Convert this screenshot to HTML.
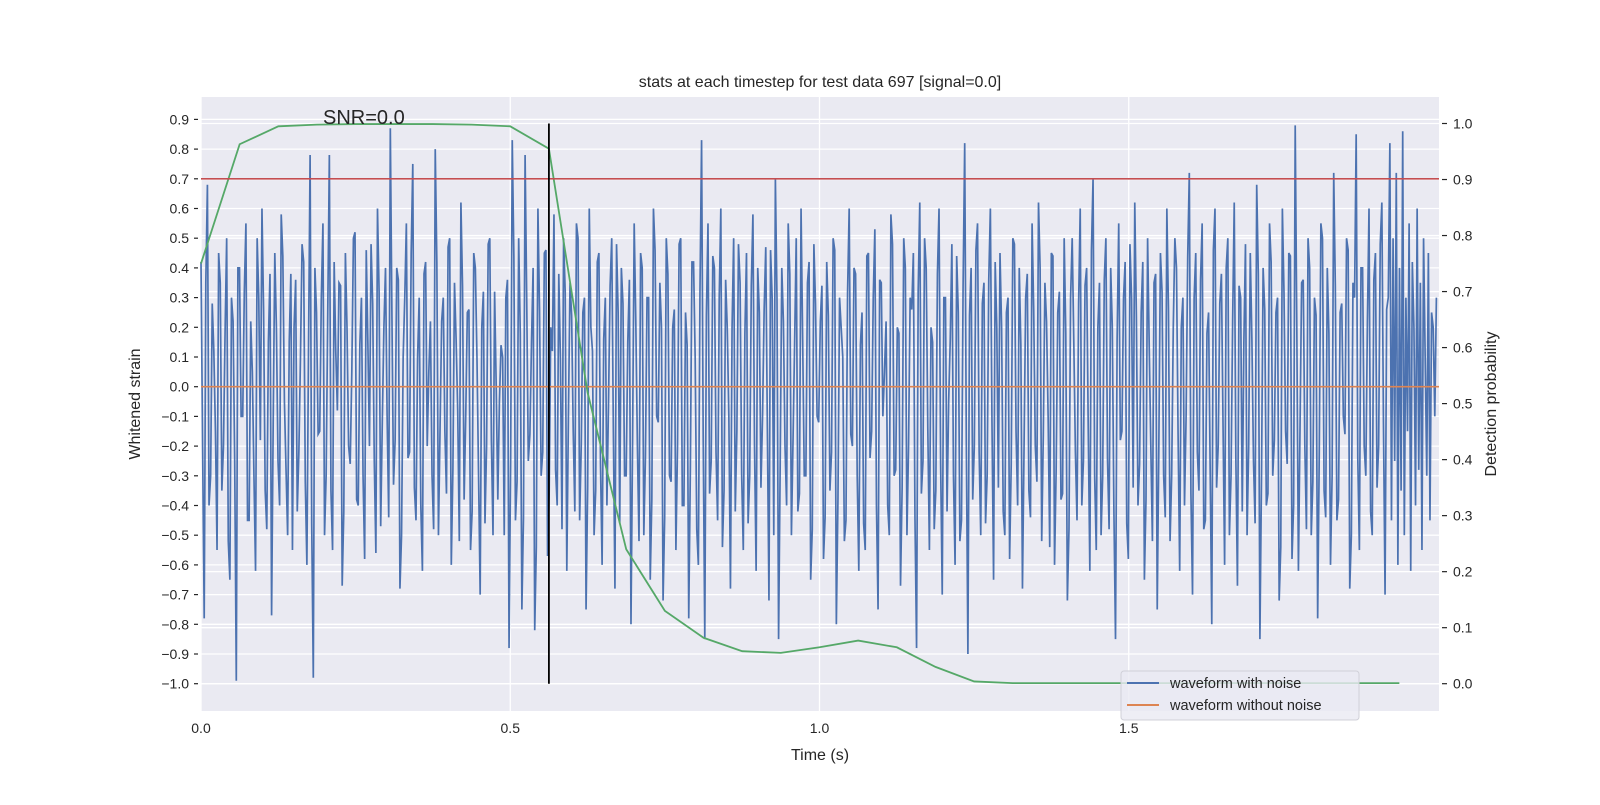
<!DOCTYPE html>
<html><head><meta charset="utf-8"><style>
body{margin:0;background:#fff;}
svg text{font-family:"Liberation Sans","DejaVu Sans",sans-serif;fill:#262626;}
</style></head><body>
<svg id="chart" width="1600" height="800" xmlns="http://www.w3.org/2000/svg">
<rect x="201" y="97" width="1238" height="614" fill="#eaeaf2"/>
<g id="grid"></g>
<g id="marks"></g>
<g id="axes"></g>
<text x="820" y="87" font-size="16" text-anchor="middle">stats at each timestep for test data 697 [signal=0.0]</text>
<text x="323" y="124" font-size="20">SNR=0.0</text>
<text x="820" y="760" font-size="16" text-anchor="middle">Time (s)</text>
<text x="140" y="404" font-size="16" text-anchor="middle" transform="rotate(-90 140 404)">Whitened strain</text>
<text x="1496" y="404" font-size="16" text-anchor="middle" transform="rotate(-90 1496 404)">Detection probability</text>
<g>
<rect x="1121" y="671" width="238" height="49" rx="3" fill="#eaeaf2" fill-opacity="0.8" stroke="#d0d0d8"/>
<line x1="1127" y1="683" x2="1159" y2="683" stroke="#4c72b0" stroke-width="2"/>
<text x="1170" y="688" font-size="14.5">waveform with noise</text>
<line x1="1127" y1="705" x2="1159" y2="705" stroke="#dd8452" stroke-width="2"/>
<text x="1170" y="710" font-size="14.5">waveform without noise</text>
</g>
</svg>
<script>
const xTicks=[0,0.5,1.0,1.5];
const xTickLabels=["0.0","0.5","1.0","1.5"];
const yTicks=[-1.0,-0.9,-0.8,-0.7,-0.6,-0.5,-0.4,-0.3,-0.2,-0.1,0.0,0.1,0.2,0.3,0.4,0.5,0.6,0.7,0.8,0.9];
const y2Ticks=[0,0.1,0.2,0.3,0.4,0.5,0.6,0.7,0.8,0.9,1.0];
const probTimes=[0,0.0625,0.125,0.1875,0.25,0.3125,0.375,0.4375,0.5,0.5625,0.625,0.6875,0.75,0.8125,0.875,0.9375,1.0,1.0625,1.125,1.1875,1.25,1.3125,1.375,1.4375,1.5,1.5625,1.625,1.6875,1.75,1.8125,1.875,1.9375];
const probValues=[0.75,0.963,0.995,0.998,0.999,0.999,0.999,0.998,0.995,0.955,0.52,0.24,0.13,0.082,0.058,0.055,0.065,0.077,0.065,0.03,0.004,0.001,0.001,0.001,0.001,0.001,0.001,0.001,0.001,0.001,0.001,0.001];
const threshold=0.7;
const markerTime=0.5625;
const noiseDuration=2.0;
const noiseA=[0.42,-0.78,0.68,-0.3,0.12,-0.55,0.35,-0.2,0.5,-0.65,0.22,-0.99,0.4,-0.1,0.55,-0.45,0.05,-0.62,0.3,0.6,-0.35,0.15,-0.77,0.45,-0.25,0.58,-0.05,-0.5,0.38,0.2,-0.42,0.1,0.42,-0.6,0.78,-0.98,0.25,-0.15,0.55,-0.3,0.78,-0.55,0.12,0.35,-0.67,0.45,-0.2,0.05,0.52,-0.4,0.3,-0.58,0.15,0.48,-0.25,0.6,-0.47,0.2,-0.1,0.87,-0.33,0.4,-0.68,0.1,0.55,-0.22,0.75,-0.45,0.3,-0.62,0.42,0.05,-0.3,0.8,-0.5,0.22,-0.15,0.47,-0.6,0.35,-0.08,0.62,-0.38,0.25,-0.55,0.45,0.1,-0.7,0.32,-0.2,0.5,-0.5,0.0,-0.05,0.1,0.3,-0.88,0.83,-0.45,0.5,-0.75,0.78,-0.25,0.15,-0.82,0.6,-0.3,0.45,-0.57,0.2,0.58,-0.4,0.1,0.5,-0.62,0.35,-0.15,0.55,-0.45,0.25,-0.75,0.6,0.12,-0.35,0.45,-0.6,0.3,-0.05,0.5,-0.68,0.25,0.4,-0.3,0.15,-0.8,0.55,-0.2,0.45,-0.5,0.3,-0.65,0.6,-0.1,0.35,-0.72,0.5,-0.3,0.2,-0.55,0.48,-0.4,0.25,-0.78,0.42,0.1,-0.6,0.83,-0.85,0.55,-0.25,0.4,-0.45,0.6,-0.35,0.2,-0.68,0.5,-0.15,0.35,-0.55,0.45,-0.3,0.58,-0.62,0.25,-0.1,0.47,-0.72,0.3,0.7,-0.85,0.4,-0.2,0.55,-0.5,0.15,-0.42,0.6,-0.3,0.35,-0.65,0.48,-0.1,0.22,-0.58,0.42,-0.35,0.5,-0.8,0.3,0.1,-0.45,0.6,-0.2,0.38,-0.62,0.25,-0.55,0.45,-0.15,0.53,-0.75,0.35,0.05,-0.4,0.58,-0.3,0.2,-0.67,0.5,-0.5,0.3,0.45,-0.88,0.62,-0.25,0.4,-0.55,0.15,-0.35,0.6,-0.7,0.3,-0.05,0.48,-0.6,0.25,-0.45,0.82,-0.9,0.4,-0.2,0.55,-0.5,0.35,-0.3,0.6,-0.65,0.2,0.45,-0.42,0.25,-0.58,0.5,-0.15,0.4,-0.68,0.3,-0.35,0.55,-0.2,0.62,-0.52,0.35,-0.1,0.45,-0.6,0.25,-0.38,0.5,-0.72,0.3,0.15,-0.45,0.6,-0.25,0.4,-0.62,0.7,-0.55,0.35,-0.3,0.5,-0.48,0.2,-0.85,0.55,-0.15,0.42,-0.58,0.3,0.62,-0.4,0.25,-0.65,0.5,-0.2,0.35,-0.75,0.45,-0.3,0.6,-0.52,0.2,0.4,-0.62,0.3,-0.1,0.72,-0.7,0.45,-0.35,0.55,-0.45,0.25,-0.8,0.6,-0.2,0.38,-0.6,0.5,-0.3,0.62,-0.67,0.3,0.15,-0.5,0.45,-0.25,0.68,-0.85,0.4,-0.4,0.55,-0.3,0.25,-0.72,0.6,-0.15,0.45,-0.58,0.88,-0.62,0.35,-0.2,0.5,-0.5,0.3,-0.78,0.55,-0.35,0.4,-0.6,0.72,-0.45,0.25,-0.1,0.5,-0.68,0.35,0.85,-0.55,0.4,-0.3,0.6,-0.5,0.45,-0.2,0.62,-0.7,0.3,0.82,-0.45,0.5,-0.25,0.72,-0.6,0.4,-0.35,0.86,-0.5,0.3,-0.15,0.55,-0.62,0.42,0.2,-0.4,0.6,-0.28,0.35,-0.55,0.5,0.1,-0.3,0.45,-0.45,0.25,0.2,-0.1,0.3];
const noiseB=[-0.2,0.35,-0.4,0.28,-0.15,0.45,-0.35,0.18,-0.52,0.3,-0.25,0.4,-0.1,0.32,-0.45,0.22,-0.3,0.5,-0.18,0.26,-0.48,0.38,-0.12,0.2,-0.4,0.44,-0.28,0.15,-0.55,0.36,-0.22,0.48,-0.32,0.12,-0.46,0.4,-0.16,0.3,-0.5,0.25,-0.35,0.42,-0.08,0.34,-0.42,0.2,-0.26,0.5,-0.38,0.14,-0.3,0.46,-0.2,0.28,-0.56,0.32,-0.12,0.4,-0.44,0.24,-0.18,0.36,-0.5,0.3,-0.24,0.45,-0.34,0.1,-0.4,0.38,-0.2,0.22,-0.48,0.42,-0.14,0.3,-0.36,0.5,-0.28,0.16,-0.52,0.34,-0.1,0.26,-0.42,0.4,-0.3,0.2,-0.46,0.48,-0.18,0.32,-0.38,0.14,-0.5,0.36,-0.24,0.44,-0.32,0.18,-0.44,0.3,-0.16,0.4,-0.54,0.26,-0.22,0.46,-0.36,0.12,-0.28,0.38,-0.48,0.32,-0.1,0.24,-0.42,0.5,-0.2,0.3,-0.34,0.2,-0.5,0.42,-0.26,0.16,-0.4,0.34,-0.14,0.48,-0.46,0.28,-0.3,0.36,-0.18,0.22,-0.52,0.4,-0.24,0.3,-0.38,0.46,-0.12,0.2,-0.44,0.38,-0.32,0.26,-0.2,0.5,-0.4,0.14,-0.28,0.42,-0.48,0.32,-0.16,0.24,-0.36,0.44,-0.22,0.3,-0.54,0.36,-0.1,0.2,-0.42,0.48,-0.3,0.18,-0.46,0.34,-0.2,0.4,-0.34,0.26,-0.14,0.46,-0.5,0.3,-0.26,0.22,-0.4,0.38,-0.18,0.5,-0.36,0.16,-0.3,0.42,-0.48,0.28,-0.12,0.34,-0.44,0.24,-0.22,0.46,-0.38,0.2,-0.52,0.32,-0.16,0.4,-0.3,0.14,-0.46,0.44,-0.24,0.3,-0.4,0.36,-0.1,0.22,-0.5,0.48,-0.28,0.18,-0.34,0.4,-0.2,0.26,-0.44,0.32,-0.36,0.5,-0.14,0.2,-0.48,0.38,-0.26,0.3,-0.42,0.16,-0.3,0.44,-0.52,0.34,-0.18,0.24,-0.38,0.46,-0.22,0.28,-0.46,0.36,-0.12,0.42,-0.34,0.2,-0.5,0.3,-0.26,0.48,-0.4,0.14,-0.2,0.38,-0.44,0.26,-0.32,0.4,-0.16,0.22,-0.54,0.44,-0.28,0.32,-0.36,0.18,-0.48,0.5,-0.22,0.28,-0.4,0.34,-0.14,0.46,-0.3,0.2,-0.5,0.36,-0.24,0.4,-0.42,0.16,-0.18,0.3,-0.46,0.48,-0.34,0.24,-0.26,0.42,-0.38,0.14,-0.52,0.38,-0.2,0.32,-0.44,0.26,-0.3,0.5,-0.16,0.2,-0.4,0.44,-0.36,0.3,-0.22,0.36,-0.48,0.18,-0.28,0.46,-0.34,0.28,-0.12,0.4,-0.5,0.22,-0.24,0.34,-0.42,0.48,-0.2,0.16,-0.46,0.38,-0.3,0.26,-0.36,0.42,-0.18,0.3,-0.54,0.32,-0.26,0.44,-0.4,0.2,-0.14,0.36,-0.48,0.4,-0.32,0.24,-0.22,0.5,-0.44,0.18,-0.3,0.34,-0.38,0.28,-0.16,0.46,-0.5,0.3,-0.24,0.4,-0.2,0.22,-0.42,0.36,-0.34,0.48,-0.12,0.26];
const NS="http://www.w3.org/2000/svg";
const X0=201,X1=1438,YB=683.7;
const xs=t=>X0+t*(X1-X0)/2.0;
const yL=v=>YB-(v+1)*297;
const yR=p=>YB-p*560.2;
function mk(tag,parent,attrs){const e=document.createElementNS(NS,tag);for(const k in attrs)e.setAttribute(k,attrs[k]);parent.appendChild(e);return e;}
const grid=document.getElementById('grid'),marks=document.getElementById('marks'),axes=document.getElementById('axes');
xTicks.forEach((t,i)=>{
 const g=mk('line',grid,{x1:xs(t),x2:xs(t),y1:97,y2:711,stroke:'#fff','stroke-width':1.3});
 
 
 const l=mk('text',axes,{x:xs(t),y:733,'font-size':14,'text-anchor':'middle'});l.textContent=xTickLabels[i];
 
 
});
yTicks.forEach(v=>{
 const g=mk('line',grid,{x1:X0,x2:1439,y1:yL(v),y2:yL(v),stroke:'#fff','stroke-width':1.3});
 
 
 mk('line',axes,{x1:X0-7,x2:X0-3,y1:yL(v),y2:yL(v),stroke:'#262626','stroke-width':1.2});
 const l=mk('text',axes,{x:X0-12,y:yL(v)+5,'font-size':14,'text-anchor':'end'});l.textContent=(v<0?'\u2212'+(-v).toFixed(1):v.toFixed(1));
 
 
});
y2Ticks.forEach(p=>{
 const g=mk('line',grid,{x1:X0,x2:1439,y1:yR(p),y2:yR(p),stroke:'#fff','stroke-width':1.3});
 
 
 mk('line',axes,{x1:1442,x2:1447,y1:yR(p),y2:yR(p),stroke:'#262626','stroke-width':1.2});
 const l=mk('text',axes,{x:1453,y:yR(p)+5,'font-size':14});l.textContent=p.toFixed(1);
 
 
});
// interleave the two noise arrays into one sample sequence
const noiseValues=[];
for(let i=0;i<Math.max(noiseA.length,noiseB.length);i++){if(i<noiseA.length)noiseValues.push(noiseA[i]);if(i<noiseB.length)noiseValues.push(noiseB[i]);}
const n=noiseValues.length;
const noise=mk('polyline',marks,{points:noiseValues.map((v,i)=>xs(i*noiseDuration/n)+','+yL(v)).join(' '),fill:'none',stroke:'#4c72b0','stroke-width':1.7});


const clean=mk('line',marks,{x1:X0,x2:1439,y1:yL(0),y2:yL(0),stroke:'#dd8452','stroke-width':1.6});


const prob=mk('polyline',marks,{points:probTimes.map((t,i)=>xs(t)+','+yR(probValues[i])).join(' '),fill:'none',stroke:'#55a868','stroke-width':1.8});


const th=mk('line',marks,{x1:X0,x2:1439,y1:yL(threshold),y2:yL(threshold),stroke:'#c44e52','stroke-width':1.6});


const vm=mk('line',marks,{x1:xs(markerTime),x2:xs(markerTime),y1:yR(1),y2:yR(0),stroke:'#000','stroke-width':1.8});


</script>
</body></html>
